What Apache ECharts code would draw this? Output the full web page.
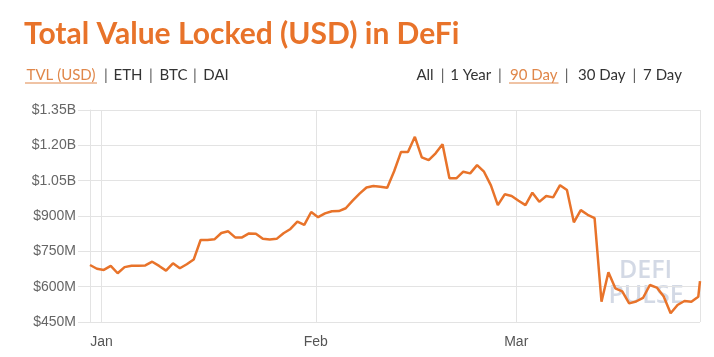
<!DOCTYPE html>
<html><head><meta charset="utf-8">
<script src="https://cdn.jsdelivr.net/npm/echarts@6/dist/echarts.min.js"></script>
<style>html,body{margin:0;padding:0;background:#fff}#c{width:714px;height:357px}</style>
</head><body><div id="c"></div>
<script>
// ---- data ----
const chartTitle = 'Total Value Locked (USD) in DeFi';
const leftNav = ['TVL (USD)', 'ETH', 'BTC', 'DAI'];
const rightNav = ['All', '1 Year', '90 Day', '30 Day', '7 Day'];
const watermark = ['DEFI', 'PULSE'];
const firstTime = '2019-12-30T08:00:00';
const lastTime = '2020-03-27T14:00:00';
// daily TVL in millions of USD (last value = latest intraday reading)
const tvlMillions = [
  692, 676, 671, 688, 657, 683, 689, 689, 690, 706,
  688, 668, 699, 678, 695, 715, 798, 798, 801, 828,
  835, 809, 809, 826, 825, 803, 800, 803, 827, 845,
  876, 862, 917, 895, 911, 920, 921, 933, 965, 995,
  1021, 1027, 1024, 1020, 1090, 1172, 1172, 1236, 1149, 1137,
  1166, 1205, 1060, 1060, 1088, 1081, 1116, 1088, 1030, 946,
  992, 985, 965, 946, 999, 960, 985, 979, 1031, 1010,
  873, 925, 905, 891, 536, 661, 593, 580, 529, 537,
  552, 607, 596, 558, 487, 522, 539, 536, 557, 624
];
const yTickValues = [450, 600, 750, 900, 1050, 1200, 1350];
const yTickLabels = ['$450M', '$600M', '$750M', '$900M', '$1.05B', '$1.20B', '$1.35B'];
const monthTickDates = ['2020-01-01T00:00:00', '2020-02-01T00:00:00', '2020-03-01T00:00:00'];
const monthTickLabels = ['Jan', 'Feb', 'Mar'];

// ---- build ----
const t0 = Date.parse(firstTime);
const tLast = Date.parse(lastTime);
const DAY = 86400000;
const seriesData = tvlMillions.map((v, i) =>
  [i === tvlMillions.length - 1 ? tLast : t0 + i * DAY, v]);
const monthTicks = monthTickDates.map(d => Date.parse(d));
function monthLabel(v) {
  const d = new Date(v);
  for (let i = 0; i < monthTicks.length; i++) {
    const m = new Date(monthTicks[i]);
    if (d.getMonth() === m.getMonth() && d.getDate() === 1) return monthTickLabels[i];
  }
  return '';
}

// layout (positions only)
const ORANGE = '#e8732a';
const navY = 75.5;
const leftNavX = [61, 128, 173.5, 216];
const leftSepX = [106, 151, 195];
const rightNavX = [425, 470.7, 533.7, 601.7, 662.5];
const rightSepX = [442.7, 500, 566.7, 634.3];
const navFont = '15px Lato';

const graphics = [];
leftNav.forEach((t, i) => graphics.push({type: 'text', style: {
  text: t, x: leftNavX[i], y: navY, textAlign: 'center', textVerticalAlign: 'middle',
  font: navFont, fill: i === 0 ? '#e0874a' : '#333'}}));
leftSepX.forEach(x => graphics.push({type: 'text', style: {
  text: '|', x: x, y: navY, textAlign: 'center', textVerticalAlign: 'middle',
  font: navFont, fill: '#555'}}));
rightNav.forEach((t, i) => graphics.push({type: 'text', style: {
  text: t, x: rightNavX[i], y: navY, textAlign: 'center', textVerticalAlign: 'middle',
  font: navFont, fill: i === 2 ? '#e0874a' : '#333'}}));
rightSepX.forEach(x => graphics.push({type: 'text', style: {
  text: '|', x: x, y: navY, textAlign: 'center', textVerticalAlign: 'middle',
  font: navFont, fill: '#555'}}));
graphics.push({type: 'line', shape: {x1: 25, y1: 83, x2: 97, y2: 83}, style: {stroke: '#e0874a', lineWidth: 1}});
graphics.push({type: 'line', shape: {x1: 509, y1: 83, x2: 558.5, y2: 83}, style: {stroke: '#e0874a', lineWidth: 1}});
graphics.push({type: 'text', z: -1, style: {text: watermark[0], x: 645.5, y: 270.5, textAlign: 'center',
  textVerticalAlign: 'middle', font: '600 25px "Open Sans"', fill: 'rgba(200,207,222,0.8)'}});
graphics.push({type: 'text', z: -1, style: {text: watermark[1], x: 646, y: 295.5, textAlign: 'center',
  textVerticalAlign: 'middle', font: '600 25px "Open Sans"', fill: 'rgba(200,207,222,0.8)'}});

const chart = echarts.init(document.getElementById('c'), null, {renderer: 'canvas'});
chart.setOption({
  animation: false,
  backgroundColor: '#fff',
  title: {
    text: chartTitle, left: 19, top: 14,
    textStyle: {color: ORANGE, fontFamily: 'Lato', fontWeight: 'bold', fontSize: 30}
  },
  graphic: graphics,
  grid: {left: 90, right: 14, top: 110, bottom: 35},
  xAxis: {
    type: 'time', min: t0, max: tLast, splitNumber: 3,
    minInterval: 28 * DAY,
    axisLine: {show: false},
    axisTick: {show: false},
    splitLine: {show: true, lineStyle: {color: '#e3e3e3', width: 1}},
    axisLabel: {
      margin: 13, showMinLabel: false, showMaxLabel: false,
      color: '#555', fontFamily: 'Liberation Sans', fontSize: 14, fontWeight: 'normal',
      formatter: v => monthLabel(v),
      rich: {}
    }
  },
  yAxis: {
    type: 'value', min: 450, max: 1350, interval: 150,
    axisLine: {show: true, lineStyle: {color: '#e3e3e3'}},
    axisTick: {show: true, length: 12, lineStyle: {color: '#e3e3e3'}},
    splitLine: {show: true, lineStyle: {color: '#e3e3e3'}},
    axisLabel: {
      margin: 14, color: '#666', fontFamily: 'Liberation Sans', fontSize: 14,
      formatter: v => yTickLabels[yTickValues.indexOf(v)] || ''
    }
  },
  series: [{
    type: 'line', data: seriesData, showSymbol: false, symbol: 'none',
    lineStyle: {color: ORANGE, width: 2.5}, z: 3
  }]
});
</script></body></html>
